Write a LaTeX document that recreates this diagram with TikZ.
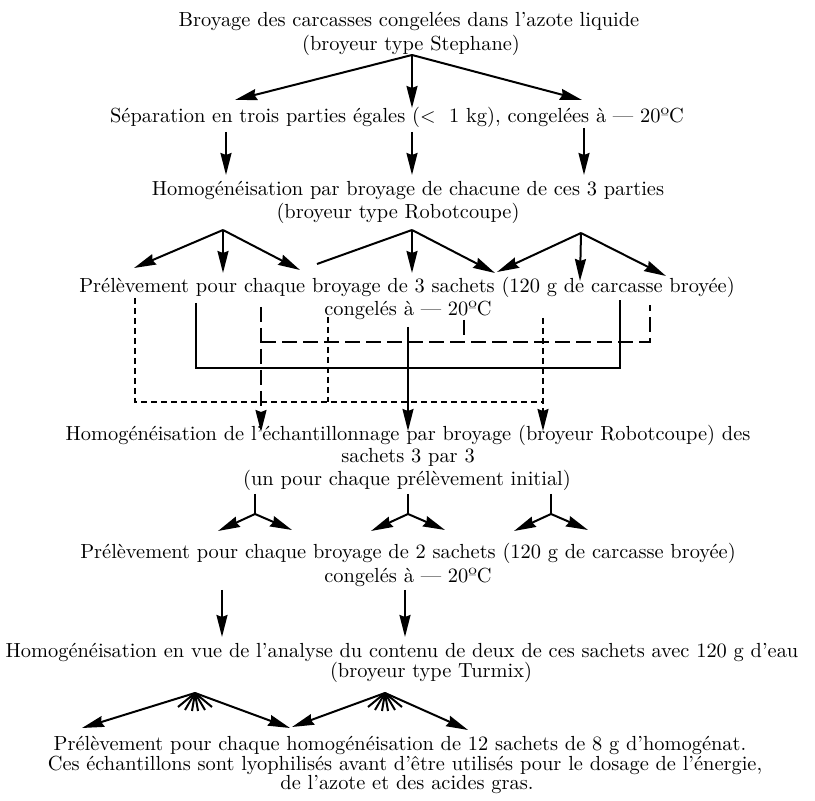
\documentclass[tikz,border=0pt]{standalone}
\usetikzlibrary{arrows.meta}

\begin{document}
\begin{tikzpicture}[
  x=0.5pt,y=-0.5pt,
  >={Stealth[length=11pt,width=5.5pt,inset=1pt]},
  txt/.style={inner sep=0pt,font=\fontsize{10.2}{12}\selectfont},
  flow/.style={->,line width=1pt},
  ystem/.style={line width=1pt},
  finedash/.style={line width=0.9pt,dash pattern=on 3pt off 2pt},
  longdash/.style={line width=0.9pt,dash pattern=on 7.5pt off 3pt},
  solidlink/.style={line width=0.9pt}
]
  \useasboundingbox (0,0) rectangle (815,801);

  % texts
  \node[txt] (broyage) at (409,21) {Broyage des carcasses congelées dans l'azote liquide};
  \node[txt] (stephane) at (411,45) {(broyeur type Stephane)};
  \node[txt] (separation) at (397,117) {Séparation en trois parties égales ($<$~~1 kg), congelées à — 20ºC};
  \node[txt] (homog) at (408,190) {Homogénéisation par broyage de chacune de ces 3 parties};
  \node[txt] (robot) at (398,213) {(broyeur type Robotcoupe)};
  \node[txt] (prelev) at (407,287) {Prélèvement pour chaque broyage de 3 sachets (120 g de carcasse broyée)};
  \node[txt] (congel) at (408,310) {congelés à — 20ºC};
  \node[txt] (echant) at (408,435) {Homogénéisation de l'échantillonnage par broyage (broyeur Robotcoupe) des};
  \node[txt] (partrois) at (408,457) {sachets 3 par 3};
  \node[txt] (initial) at (407,480) {(un pour chaque prélèvement initial)};
  \node[txt] (prelevb) at (408,553) {Prélèvement pour chaque broyage de 2 sachets (120 g de carcasse broyée)};
  \node[txt] (congelb) at (408,577) {congelés à — 20ºC};
  \node[txt] (analyse) at (402,652) {Homogénéisation en vue de l'analyse du contenu de deux de ces sachets avec 120 g d'eau};
  \node[txt] (turmix) at (431,672) {(broyeur type Turmix)};
  \node[txt] (final) at (400,745) {Prélèvement pour chaque homogénéisation de 12 sachets de 8 g d'homogénat.};
  \node[txt] (lyophil) at (405,765) {Ces échantillons sont lyophilisés avant d'être utilisés pour le dosage de l'énergie,};
  \node[txt] (gras) at (407,785) {de l'azote et des acides gras.};

  % Stephane -> separation
  \coordinate (a0) at (412,55);
  \coordinate (a1) at (235,100);
  \coordinate (a2) at (412,108);
  \coordinate (a3) at (582,100);
  \draw[flow] (a0) -- (a1);
  \draw[flow] (a0) -- (a2);
  \draw[flow] (a0) -- (a3);

  % separation -> homogeneisation
  \foreach \x/\t/\n in {226/132/1,412/132/2,584/128/3}{
    \coordinate (b\n) at (\x,\t);
    \coordinate (bb\n) at (\x,175);
    \draw[flow] (b\n) -- (bb\n);
  }

  % Robotcoupe -> prelevements
  \coordinate (c1) at (223,230);
  \coordinate (c2) at (412,230);
  \coordinate (c3) at (581,233);
  \coordinate (c1l) at (134,268);
  \coordinate (c1m) at (223,273);
  \coordinate (c1r) at (300,270);
  \coordinate (c2l) at (317,264);
  \coordinate (c2m) at (412,273);
  \coordinate (c2r) at (495,273);
  \coordinate (c3l) at (497,272);
  \coordinate (c3m) at (580,281);
  \coordinate (c3r) at (666,276);
  \draw[flow] (c1) -- (c1l);
  \draw[flow] (c1) -- (c1m);
  \draw[flow] (c1) -- (c1r);
  \draw[ystem] (c2) -- (c2l);
  \draw[flow] (c2) -- (c2m);
  \draw[flow] (c2) -- (c2r);
  \draw[flow] (c3) -- (c3l);
  \draw[flow] (c3) -- (c3m);
  \draw[flow] (c3) -- (c3r);

  % regroupement des sachets
  \coordinate (f1t) at (135,298);
  \coordinate (f1b) at (135,402);
  \coordinate (f2t) at (328,317);
  \coordinate (f2b) at (328,402);
  \coordinate (f3t) at (543,318);
  \coordinate (f3b) at (543,402);
  \coordinate (f3e) at (543,431);
  \draw[finedash] (f1t) -- (f1b) -- (f3b);
  \draw[finedash] (f2t) -- (f2b);
  \draw[finedash,->] (f3t) -- (f3e);

  \coordinate (l1t) at (261,307);
  \coordinate (l1b) at (261,342);
  \coordinate (l1e) at (261,432);
  \coordinate (l2t) at (464,320);
  \coordinate (l2b) at (464,342);
  \coordinate (l3t) at (650,305);
  \coordinate (l3b) at (650,342);
  \draw[longdash,->] (l1t) -- (l1e);
  \draw[longdash] (l1b) -- (l3b) -- (l3t);
  \draw[longdash] (l2t) -- (l2b);

  \coordinate (s1t) at (196,303);
  \coordinate (s1b) at (196,368);
  \coordinate (s2t) at (408,327);
  \coordinate (s2e) at (408,431);
  \coordinate (s3t) at (620,300);
  \coordinate (s3b) at (620,368);
  \draw[solidlink] (s1t) -- (s1b) -- (s3b) -- (s3t);
  \draw[flow] (s2t) -- (s2e);

  % fourches
  \foreach \x/\n in {255/1,408/2,551/3}{
    \coordinate (y\n) at (\x,494);
    \coordinate (j\n) at (\x,514);
    \coordinate (jl\n) at (\x-37,531);
    \coordinate (jr\n) at (\x+37,530);
    \draw[ystem] (y\n) -- (j\n);
    \draw[flow] (j\n) -- (jl\n);
    \draw[flow] (j\n) -- (jr\n);
  }

  % vers Turmix
  \foreach \x/\n in {222/1,405/2}{
    \coordinate (e\n) at (\x,590);
    \coordinate (ee\n) at (\x,637);
    \draw[flow] (e\n) -- (ee\n);
  }

  % Turmix -> prelevements finaux
  \coordinate (d1) at (195,693);
  \coordinate (d2) at (385,693);
  \coordinate (d1l) at (82,728);
  \coordinate (d1r) at (290,728);
  \coordinate (d2l) at (292,727);
  \coordinate (d2r) at (468,730);
  \draw[flow] (d1) -- (d1l);
  \draw[flow] (d1) -- (d1r);
  \draw[flow] (d2) -- (d2l);
  \draw[flow] (d2) -- (d2r);
  \foreach \n in {1,2}{
    \foreach \dx/\dy in {-17/14,-10/17,-3/18,3/18,10/17,17/14}
      \draw[ystem] (d\n) -- ++(\dx,\dy);
  }
\end{tikzpicture}
\end{document}
